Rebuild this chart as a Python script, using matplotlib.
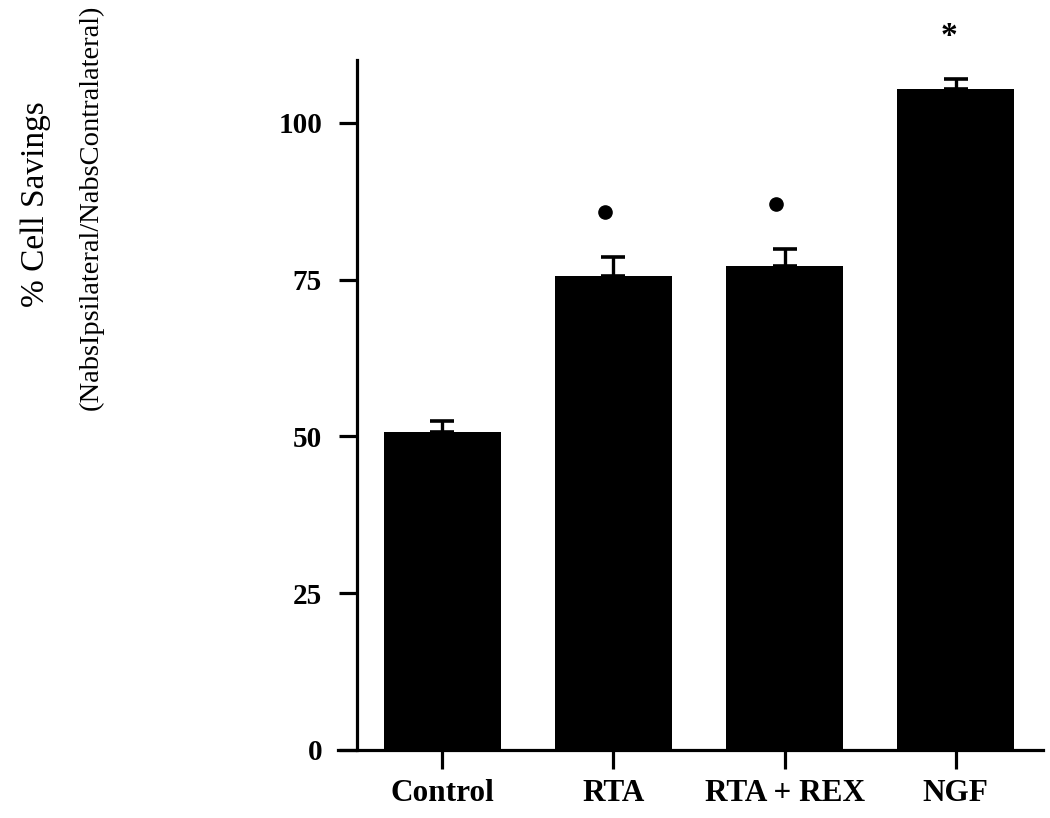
import matplotlib
matplotlib.use("Agg")
import matplotlib.pyplot as plt

# values
groups = ["Control", "RTA", "RTA + REX", "NGF"]
means = [50.7, 75.5, 77.2, 105.3]
sem = [1.8, 3.1, 2.6, 1.6]
dot_groups = [1, 2]
dot_heights = [85.8, 87.1]
star_group = 3
star_height = 113.8
yticks = [0, 25, 50, 75, 100]

plt.rcParams['font.family'] = ['Liberation Serif', 'DejaVu Serif']

fig = plt.figure(figsize=(10.5, 8.18), dpi=100)
ax = fig.add_axes([338 / 1050, 68 / 818, (1043 - 338) / 1050, 690 / 818])

x = list(range(len(groups)))
ax.bar(x, means, width=0.685, color='black', zorder=2)
ax.errorbar(x, means, yerr=[[0] * len(sem), sem], fmt='none', ecolor='black',
            elinewidth=2.4, capsize=8.6, capthick=2.6, zorder=3)

# significance marks
ax.plot([g - 0.05 for g in dot_groups], dot_heights, 'o', color='black',
        markersize=9.5, clip_on=False)
ax.text(star_group - 0.04, star_height, '*', ha='center', va='center',
        fontsize=24, fontweight='bold', clip_on=False)

ax.set_xlim(-0.61, 3.51)
ax.set_ylim(0, 110)
ax.spines['left'].set_position(('data', -0.5))
ax.spines['left'].set_bounds(0, 110)
ax.spines['top'].set_visible(False)
ax.spines['right'].set_visible(False)
for s in ['left', 'bottom']:
    ax.spines[s].set_linewidth(2.3)

ax.set_yticks(yticks)
ax.set_yticklabels([str(v) for v in yticks], fontsize=21, fontweight='bold')
ax.set_xticks(x)
ax.set_xticklabels(groups, fontsize=22.5, fontweight='bold')
ax.tick_params(axis='y', direction='out', length=13, width=2.3, pad=12)
ax.tick_params(axis='x', direction='out', length=14, width=2.3, pad=7)

# two-line y label, placed by hand like in the original
fig.text(36 / 1050, 1 - 204 / 818, '% Cell Savings', rotation=90,
         ha='center', va='center', fontsize=24)
fig.text(91 / 1050, 1 - 207 / 818, '(NabsIpsilateral/NabsContralateral)',
         rotation=90, ha='center', va='center', fontsize=20.5)

fig.savefig('out.png', dpi=100)
